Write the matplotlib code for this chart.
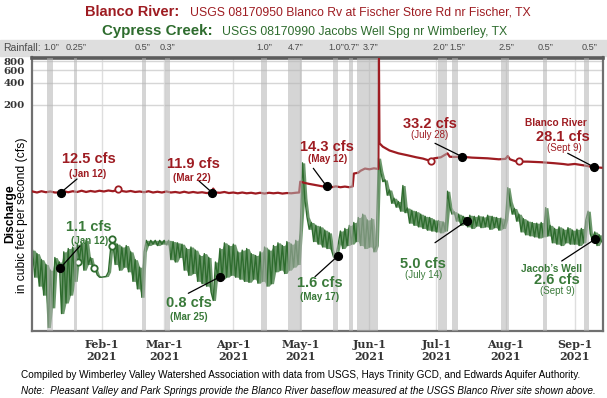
import matplotlib
matplotlib.use("Agg")
import matplotlib.pyplot as plt
from matplotlib.ticker import NullLocator
import pandas as pd

# Blanco River at Fischer Store Rd (cfs)
blanco_dates = ["01-01", "01-03", "01-05", "01-07", "01-09", "01-11", "01-13", "01-15",
                "01-17", "01-19", "01-21", "01-23", "01-25", "01-27", "01-29", "01-31",
                "02-02", "02-04", "02-06", "02-08", "02-10", "02-12", "02-14", "02-16",
                "02-18", "02-20", "02-22", "02-24", "02-26", "02-28", "03-02", "03-04",
                "03-06", "03-08", "03-10", "03-12", "03-14", "03-16", "03-18", "03-20",
                "03-22", "03-23", "03-24", "03-26", "03-28", "03-30", "04-01", "04-03",
                "04-05", "04-07", "04-09", "04-11", "04-13", "04-15", "04-17", "04-19",
                "04-21", "04-23", "04-25", "04-27", "04-29", "04-30 12:00", "05-01", "05-03",
                "05-05", "05-07", "05-09", "05-11", "05-13", "05-15", "05-17", "05-19",
                "05-21", "05-23", "05-24 12:00", "05-25", "05-27", "05-28", "05-30", "06-01",
                "06-03", "06-05", "06-05 06:00", "06-05 12:00", "06-07", "06-10", "06-14", "06-18",
                "06-22", "06-25", "06-28", "06-30", "07-03", "07-06", "07-07", "07-09",
                "07-12", "07-17", "07-24", "07-29", "08-01", "08-02", "08-03", "08-06",
                "08-11", "08-17", "08-23", "08-27", "08-29", "09-01", "09-05", "09-09", "09-13"]
blanco_cfs = [12.4, 12.0, 12.5, 12.1, 12.4, 12.0, 12.0, 12.5,
              12.1, 12.5, 12.2, 12.7, 12.2, 12.6, 12.3, 12.7,
              12.4, 12.8, 12.5, 13.0, 12.6, 12.3, 12.6, 12.2,
              12.4, 12.1, 12.5, 12.0, 12.3, 12.0, 12.4, 12.0,
              12.2, 11.9, 12.3, 11.9, 12.2, 11.9, 12.1, 11.8,
              11.9, 13.6, 12.0, 11.9, 12.2, 11.8, 12.0, 11.7,
              12.0, 11.7, 11.9, 11.6, 11.9, 11.6, 11.9, 11.7,
              11.9, 11.6, 11.8, 11.7, 11.9, 12.0, 17.0, 16.3,
              15.8, 15.4, 15.0, 14.6, 14.5, 14.2, 14.6, 14.2,
              14.5, 14.2, 14.6, 22.0, 22.6, 24.0, 25.8, 25.2,
              26.0, 25.5, 1100, 58, 52, 46, 42, 39.5,
              37.0, 35.5, 33.2, 35.8, 37.0, 42.0, 37.7, 37.4,
              37.7, 36.6, 35.8, 34.7, 35.2, 38.5, 34.7, 32.2,
              32.2, 31.6, 30.6, 29.8, 29.2, 29.9, 28.6, 27.1, 26.5]

# Cypress Creek at Jacob's Well (cfs), one reading per day from Jan 1
cypress_jan = [1.9, 0.8, 1.7, 0.6, 1.4, 0.45, 1.2, 0.16, 1.0, 0.3, 1.5, 1.1, 1.3, 0.25, 1.8, 0.35,
               2.0, 0.45, 2.1, 0.7, 2.3, 1.4, 2.4, 1.0, 2.6, 1.2, 1.5, 1.1, 1.05, 0.86, 0.8]
cypress_feb = [0.80, 0.81, 0.82, 0.95, 2.0, 2.5, 1.2, 2.3, 1.0, 2.1, 1.1, 2.2, 0.95, 1.8,
               0.7, 1.4, 0.55, 1.1, 0.42, 1.8, 2.6, 2.2, 2.6, 2.3, 2.6, 2.2, 2.6, 2.3]
cypress_mar = [2.6, 2.25, 2.6, 1.4, 2.5, 1.3, 2.4, 1.5, 2.3, 1.0, 2.0, 0.85, 2.1, 0.9, 1.9, 0.7,
               1.6, 0.65, 1.7, 0.6, 1.5, 0.5, 0.38, 1.3, 0.8, 2.0, 0.75, 2.4, 0.8, 2.2, 0.85]
cypress_apr = [2.3, 0.8, 1.8, 0.75, 1.9, 0.7, 2.0, 0.68, 1.7, 0.75, 1.6, 0.66, 1.8, 0.7, 2.1,
               0.6, 1.9, 0.65, 2.2, 0.95, 2.4, 1.0, 2.2, 0.9, 2.5, 1.0, 2.3, 1.1, 2.6, 1.2]
cypress_may = [3.6, 31.0, 10.0, 5.5, 3.7, 4.6, 2.5, 4.2, 2.3, 4.0, 2.1, 3.6, 2.0, 3.3, 1.9, 1.5,
               1.6, 2.3, 3.5, 2.0, 3.8, 2.2, 4.2, 2.3, 4.6, 2.5, 5.4, 2.2, 6.0, 2.0, 5.0]
cypress_jun = [2.1, 5.2, 1.8, 2.2, 36.0, 24.0, 17.0, 18.0, 11.0, 13.0, 8.5, 10.0, 7.5, 9.0, 6.6,
               15.0, 6.3, 7.3, 4.5, 6.8, 4.2, 6.5, 4.0, 6.0, 3.8, 5.6, 3.6, 5.4, 3.5, 5.0]
cypress_jul = [3.4, 4.9, 3.3, 4.7, 3.5, 12.5, 7.5, 6.0, 6.5, 4.8, 6.0, 4.2, 5.6, 5.0, 4.0, 5.8,
               3.8, 5.6, 4.1, 5.7, 3.9, 5.5, 4.0, 5.8, 3.7, 5.6, 3.9, 5.4, 3.6, 5.3, 3.8]
cypress_aug = [5.0, 14.0, 9.0, 6.0, 7.2, 4.8, 6.0, 3.4, 5.2, 3.1, 4.8, 3.0, 4.6, 2.9, 4.5, 2.8,
               4.6, 2.9, 7.4, 3.0, 4.2, 2.4, 3.8, 2.3, 4.0, 2.2, 3.7, 2.4, 3.9, 2.3, 3.6]
cypress_sep = [2.3, 3.7, 2.2, 3.8, 2.4, 5.0, 6.6, 3.2, 2.6, 3.4, 2.2, 3.1, 2.5]

# rainfall events (gray bands)
rain_start = ["01-07 12:00", "01-19 14:00", "02-19 02:00", "03-01 09:00", "04-13 10:00",
              "04-25 12:00", "05-15 17:00", "05-22 22:00", "05-26 12:00", "07-01 17:00",
              "07-08 00:00", "07-30 00:00", "08-17 19:00", "09-05 05:00"]
rain_end = ["01-10 04:00", "01-20 22:00", "02-20 20:00", "03-03 14:00", "04-16 02:00",
            "05-01 19:00", "05-17 22:00", "05-24 17:00", "06-04 22:00", "07-05 17:00",
            "07-10 17:00", "08-02 14:00", "08-19 14:00", "09-07 12:00"]
rain_amount = ["1.0\u201d", "0.25\u201d", "0.5\u201d", "0.3\u201d", "1.0\u201d", "4.7\u201d", "1.0\u201d",
               "0.7\u201d", "3.7\u201d", "2.0\u201d", "1.5\u201d", "2.5\u201d", "0.5\u201d", "0.5\u201d"]

# hollow circles on the traces
blanco_open_dates = ["02-08 05:00", "06-28 19:00", "08-06 22:00"]
blanco_open_cfs = [13.3, 33.2, 32.5]
cypress_open_dates = ["01-21 10:00", "01-28 12:00", "02-05 19:00", "02-05 19:00"]
cypress_open_cfs = [1.31, 1.06, 2.71, 2.19]

# callout points
blanco_note_dates = ["01-13 14:00", "03-22 14:00", "05-12 20:00", "07-12 14:00", "09-09 17:00"]
blanco_note_cfs = [11.9, 11.9, 14.6, 37.7, 27.1]
blanco_note_value = ["12.5 cfs", "11.9 cfs", "14.3 cfs", "33.2 cfs", "28.1 cfs"]
blanco_note_day = ["(Jan 12)", "(Mar 22)", "(May 12)", "(July 28)", "(Sept 9)"]
cypress_note_dates = ["01-13 07:00", "03-26 00:00", "05-17 19:00", "07-14 17:00", "09-10 02:00"]
cypress_note_cfs = [1.06, 0.81, 1.57, 4.87, 2.69]
cypress_note_value = ["1.1 cfs", "0.8 cfs", "1.6 cfs", "5.0 cfs", "2.6 cfs"]
cypress_note_day = ["(Jan 12)", "(Mar 25)", "(May 17)", "(July 14)", "(Sept 9)"]

month_ticks = ["02-01", "03-01", "04-01", "05-01", "06-01", "07-01", "08-01", "09-01"]
month_labels = ["Feb-1", "Mar-1", "Apr-1", "May-1", "Jun-1", "Jul-1", "Aug-1", "Sep-1"]
cfs_ticks = [200, 400, 600, 800]

RED = "#9e1c22"
GREEN = "#2e6c2e"
GREEN_TXT = "#3a7a3a"
W, H = 607, 398
SANS = ["Liberation Sans", "DejaVu Sans"]
NARROW = ["Liberation Sans Narrow", "Liberation Sans", "DejaVu Sans"]


def day(s):
    return pd.Timestamp("2021-" + s)


def px(x, y):
    # pixel position measured from the top-left corner -> figure fraction
    return x / W, 1 - y / H


fig = plt.figure(figsize=(W / 100, H / 100), dpi=100)
renderer = fig.canvas.get_renderer()


def fit_width(t, target):
    # scale a text's font size so it spans target pixels
    w = t.get_window_extent(renderer).width
    t.set_fontsize(t.get_fontsize() * target / w)


ax = fig.add_axes([32 / W, 1 - 330.5 / H, 571 / W, 273 / H])
ax.set_yscale("log")
ax.set_ylim(0.1454, 900)
ax.set_xlim(day("01-01") - pd.Timedelta(days=0.24), day("01-01") + pd.Timedelta(days=255.7))

# grid
for m in month_ticks:
    ax.axvline(day(m), color="#dedede", lw=1, zorder=0)
for v in cfs_ticks:
    ax.axhline(v, color="#d6d6d6", lw=1, zorder=0)

# traces
cypress = cypress_jan + cypress_feb + cypress_mar + cypress_apr + cypress_may + \
    cypress_jun + cypress_jul + cypress_aug + cypress_sep
cypress_dates = pd.date_range("2021-01-01", periods=len(cypress), freq="D")
cy = pd.Series(cypress, index=cypress_dates)
ax.fill_between(cypress_dates, cy.rolling(2, min_periods=1).min(),
                cy.rolling(2, min_periods=1).max(), color=GREEN, alpha=0.7, lw=0, zorder=2)
ax.plot(cypress_dates, cypress, color=GREEN, lw=1.0, zorder=2)
ax.plot([day(d) for d in blanco_dates], blanco_cfs, color=RED, lw=1.6, zorder=3)

ax.plot([day(d) for d in blanco_open_dates], blanco_open_cfs, "o", ms=4.6, mfc="white",
        mec=RED, mew=1.3, zorder=3.5)
ax.plot([day(d) for d in cypress_open_dates], cypress_open_cfs, "o", ms=4.6, mfc="white",
        mec=GREEN, mew=1.3, zorder=3.5)

# rain bands sit on top of the traces
for s, e in zip(rain_start, rain_end):
    ax.axvspan(day(s), day(e), color="#b4b4b4", alpha=0.55, lw=0, zorder=4)

# rainfall strip above the plot, amounts centred where the original prints them
fig.patches.append(plt.Rectangle(px(0, 55.5), 1, 15.5 / H, transform=fig.transFigure,
                                 color="#dedede", zorder=-1))
fig.text(*px(3, 48), "Rainfall:", ha="left", va="center", fontsize=7.5, family=NARROW,
         color="#4a4a4a")
rain_label_x = [51.7, 76, 142.5, 168, 264, 295.5, 336, 352, 371, 440, 457.5, 506.7, 546, 589.5]
for lx, a in zip(rain_label_x, rain_amount):
    fig.text(*px(lx, 48), a, ha="center", va="center", fontsize=6.6, family=NARROW,
             color="#4a4a4a")

# axes styling
for side in ["left", "right", "bottom"]:
    ax.spines[side].set_color("#707070")
    ax.spines[side].set_linewidth(1.6)
ax.spines["top"].set_color("#5c5c5c")
ax.spines["top"].set_linewidth(2.6)

ax.yaxis.set_minor_locator(NullLocator())
ax.set_yticks(cfs_ticks)
ax.set_yticklabels([str(v) for v in cfs_ticks])
ax.set_xticks([day(m) for m in month_ticks])
ax.set_xticklabels([m + "\n2021" for m in month_labels])
ax.tick_params(length=0)
ax.tick_params(axis="x", pad=6)
ax.tick_params(axis="y", pad=5)
for lab in ax.get_xticklabels():
    lab.set_fontsize(8)
for lab in ax.get_yticklabels():
    lab.set_fontsize(7.4)
for lab in ax.get_xticklabels() + ax.get_yticklabels():
    lab.set_fontfamily("DejaVu Serif")
    lab.set_fontweight("bold")
    lab.set_color("#333333")
    lab.set_linespacing(1.15)

# y label
fig.text(*px(10, 214), "Discharge", rotation=90, ha="center", va="center",
         fontsize=8.7, fontweight="bold", family=SANS, color="black")
fig.text(*px(22.5, 215), "in cubic feet per second (cfs)", rotation=90, ha="center",
         va="center", fontsize=8.7, family=SANS, color="black")

# callouts: value centre, date centre, end of leader line (pixels)
blanco_value_xy = [(88.5, 159.3), (193, 164), (327, 146.7), (429.7, 124), (563.3, 136.7)]
blanco_day_xy = [(88, 174), (192, 177.5), (327.5, 159.3), (430, 135.5), (564, 148)]
blanco_leader_xy = [(77, 179), (199, 181), (313.3, 168.3), (435, 143.3), (567.7, 153.3)]
cypress_value_xy = [(89, 227.3), (189, 303.3), (320, 283.3), (423, 264.3), (557, 280.5)]
cypress_day_xy = [(89.2, 241), (189, 316.7), (319.7, 296.7), (423.3, 275.5), (557.5, 291.5)]
cypress_leader_xy = [(80, 246), (188.3, 293.3), (315, 276.7), (435, 242.7), (561.7, 261)]
day_bold = [True, True, True, False, False]


def callouts(dates, cfs, values, days, value_xy, day_xy, leader_xy, color):
    for i in range(len(dates)):
        ax.annotate("", xy=(day(dates[i]), cfs[i]), xycoords="data",
                    xytext=px(*leader_xy[i]), textcoords="figure fraction",
                    arrowprops=dict(arrowstyle="-", color="black", lw=0.9,
                                    shrinkA=0, shrinkB=0), zorder=7)
        ax.plot(day(dates[i]), cfs[i], "o", color="black", ms=5.6, zorder=8)
        fig.text(*px(*value_xy[i]), values[i], ha="center", va="center", fontsize=10.5,
                 fontweight="bold", family=SANS, color=color)
        fig.text(*px(*day_xy[i]), days[i], ha="center", va="center", fontsize=7,
                 fontweight="bold" if day_bold[i] else "normal", family=SANS, color=color)


callouts(blanco_note_dates, blanco_note_cfs, blanco_note_value, blanco_note_day,
         blanco_value_xy, blanco_day_xy, blanco_leader_xy, RED)
callouts(cypress_note_dates, cypress_note_cfs, cypress_note_value, cypress_note_day,
         cypress_value_xy, cypress_day_xy, cypress_leader_xy, GREEN_TXT)
fig.text(*px(555.5, 123.3), "Blanco River", ha="center", va="center", fontsize=7.3,
         fontweight="bold", family=SANS, color=RED)
fig.text(*px(551.7, 269.3), "Jacob\u2019s Well", ha="center", va="center", fontsize=7.3,
         fontweight="bold", family=SANS, color=GREEN_TXT)

# title
t = fig.text(*px(179, 15.5), "Blanco River:", ha="right", va="baseline", fontsize=10.8,
             fontweight="bold", family=SANS, color=RED)
fit_width(t, 95)
t = fig.text(*px(189.5, 15.5), "USGS 08170950 Blanco Rv at Fischer Store Rd nr Fischer, TX",
             ha="left", va="baseline", fontsize=9, family=NARROW, color=RED)
fit_width(t, 342)
t = fig.text(*px(213, 35), "Cypress Creek:", ha="right", va="baseline", fontsize=10.8,
             fontweight="bold", family=SANS, color=GREEN)
fit_width(t, 111)
t = fig.text(*px(222, 35), "USGS 08170990 Jacobs Well Spg nr Wimberley, TX", ha="left",
             va="baseline", fontsize=9, family=NARROW, color=GREEN)
fit_width(t, 286)

# footnotes
t = fig.text(*px(20.7, 378.3), "Compiled by Wimberley Valley Watershed Association with data "
             "from USGS, Hays Trinity GCD, and Edwards Aquifer Authority.", ha="left",
             va="baseline", fontsize=7.7, family=NARROW, color="black")
fit_width(t, 563)
t = fig.text(*px(21.3, 393.7), "Note:  Pleasant Valley and Park Springs provide the Blanco River "
             "baseflow measured at the USGS Blanco River site shown above.", ha="left",
             va="baseline", fontsize=7.7, family=NARROW, style="italic", color="black")
fit_width(t, 569)

fig.savefig("out.png", dpi=100)
